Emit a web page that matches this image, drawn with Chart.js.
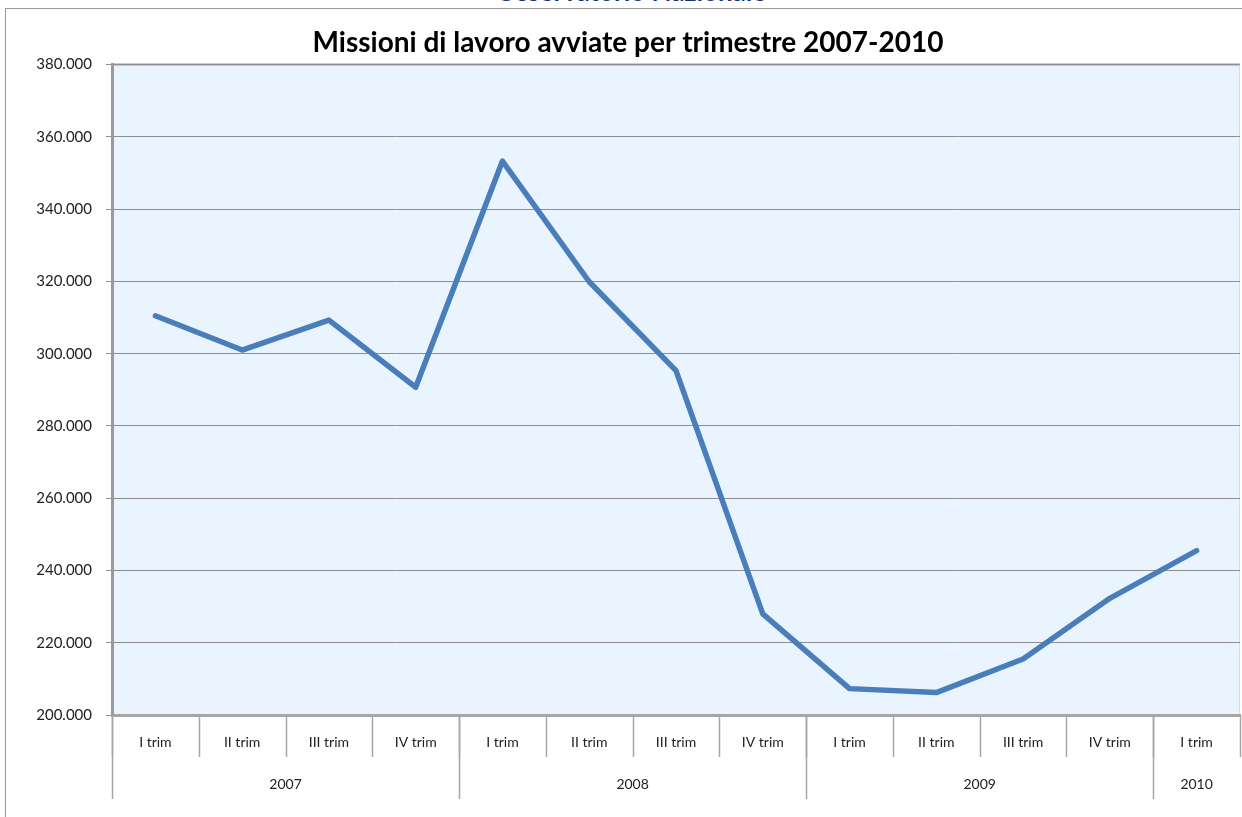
<!DOCTYPE html>
<html>
<head>
<meta charset="utf-8">
<script src="https://cdn.jsdelivr.net/npm/chart.js@4.4.1/dist/chart.umd.min.js"></script>
<style>
    body { margin: 0; background: #fff; overflow: hidden; }
    #page { position: relative; width: 1242px; height: 817px; overflow: hidden; }
    #frame { position: absolute; left: 5px; top: 8px; width: 1300px; height: 900px; border: 1px solid #9a9a9a; }
    #header {
        position: absolute; left: 0; width: 1262px; top: -25px; text-align: center;
        font: bold 26px Lato, sans-serif; color: #16336b;
    }
    #chart { position: absolute; left: 0; top: 0; }
</style>
</head>
<body>
<div id="page">
    <div id="frame"></div>
    <div id="header">Osservatorio Nazionale</div>
    <canvas id="chart" width="1242" height="817"></canvas>
</div>
<script>
    // trimestri e anni (gruppi dell'asse x)
    const quarters = ['I trim', 'II trim', 'III trim', 'IV trim',
        'I trim', 'II trim', 'III trim', 'IV trim',
        'I trim', 'II trim', 'III trim', 'IV trim',
        'I trim'];
    const years = ['2007', '2008', '2009', '2010'];
    const yearSizes = [4, 4, 4, 1];

    // missioni avviate
    const missions = [310500, 301000, 309300, 290700,
        353300, 319900, 295300, 228000,
        207300, 206200, 215500, 232300,
        245500];

    const formatThousands = (v) => String(Math.round(v)).replace(/\B(?=(\d{3})+(?!\d))/g, '.');

    // sfondo azzurro dell'area del grafico
    const plotBackground = {
        id: 'plotBackground',
        beforeDraw(chart) {
            const {ctx, chartArea: a} = chart;
            ctx.save();
            ctx.fillStyle = '#eaf4fe';
            ctx.fillRect(a.left, a.top, a.right - a.left, a.bottom - a.top);
            ctx.strokeStyle = '#a0a0a0';
            ctx.lineWidth = 2;
            ctx.beginPath();
            ctx.moveTo(a.left, a.top);
            ctx.lineTo(a.right, a.top);
            ctx.stroke();
            ctx.strokeStyle = '#d4dde6';
            ctx.lineWidth = 1;
            ctx.beginPath();
            ctx.moveTo(a.right - 0.5, a.top);
            ctx.lineTo(a.right - 0.5, a.bottom);
            ctx.stroke();
            ctx.restore();
        }
    };

    // separatori e anni sotto l'asse x
    const yearGroups = {
        id: 'yearGroups',
        afterDraw(chart) {
            const {ctx, chartArea: a} = chart;
            const x = chart.scales.x;
            const step = (x.getPixelForValue(1) - x.getPixelForValue(0));
            const bottom = a.bottom;
            ctx.save();
            ctx.strokeStyle = '#a6a6a6';
            ctx.lineWidth = 1.5;
            // separatori trimestri
            for (let i = 0; i <= quarters.length; i++) {
                const px = Math.round(x.getPixelForValue(i) - step / 2) + 0.5;
                ctx.beginPath();
                ctx.moveTo(px, bottom);
                ctx.lineTo(px, bottom + 42);
                ctx.stroke();
            }
            // separatori anni + etichette
            ctx.fillStyle = '#222';
            ctx.font = '14px Lato, sans-serif';
            ctx.textAlign = 'center';
            ctx.textBaseline = 'middle';
            let start = 0;
            years.forEach((year, i) => {
                const end = start + yearSizes[i];
                const x0 = x.getPixelForValue(start) - step / 2;
                const x1 = x.getPixelForValue(end - 1) + step / 2;
                ctx.beginPath();
                ctx.moveTo(Math.round(x0) + 0.5, bottom);
                ctx.lineTo(Math.round(x0) + 0.5, bottom + 84);
                ctx.stroke();
                ctx.fillText(year, (x0 + x1) / 2, bottom + 69);
                start = end;
            });
            ctx.restore();
        }
    };

    new Chart(document.getElementById('chart'), {
        type: 'line',
        data: {
            labels: quarters,
            datasets: [{
                data: missions,
                borderColor: '#4a7ebb',
                borderWidth: 5.5,
                pointRadius: 0,
                tension: 0,
                borderJoinStyle: 'round',
                borderCapStyle: 'round'
            }]
        },
        options: {
            responsive: false,
            animation: false,
            layout: {padding: {left: 16, right: 2, top: 0, bottom: 0}},
            plugins: {
                legend: {display: false},
                tooltip: {enabled: false},
                title: {
                    display: true,
                    text: 'Missioni di lavoro avviate per trimestre 2007-2010',
                    color: '#000',
                    font: {family: 'Lato', size: 28, weight: 'bold', lineHeight: 1.2},
                    padding: {top: 26, bottom: 5}
                }
            },
            scales: {
                x: {
                    offset: true,
                    grid: {display: false},
                    border: {color: '#a6a6a6', width: 3},
                    ticks: {
                        color: '#222',
                        font: {family: 'Lato', size: 14},
                        padding: 11,
                        maxRotation: 0,
                        autoSkip: false
                    },
                    afterFit(scale) { scale.height = 102; }
                },
                y: {
                    min: 200000,
                    max: 380000,
                    grid: {color: '#8e8e8e', lineWidth: 1, tickLength: 6, tickColor: '#8e8e8e'},
                    border: {color: '#9a9a9a', width: 3},
                    ticks: {
                        stepSize: 20000,
                        color: '#222',
                        font: {family: 'Lato', size: 15},
                        padding: 14,
                        callback: (v) => formatThousands(v)
                    },
                    afterFit(scale) { scale.width = 96; }
                }
            }
        },
        plugins: [plotBackground, yearGroups]
    });
</script>
</body>
</html>
